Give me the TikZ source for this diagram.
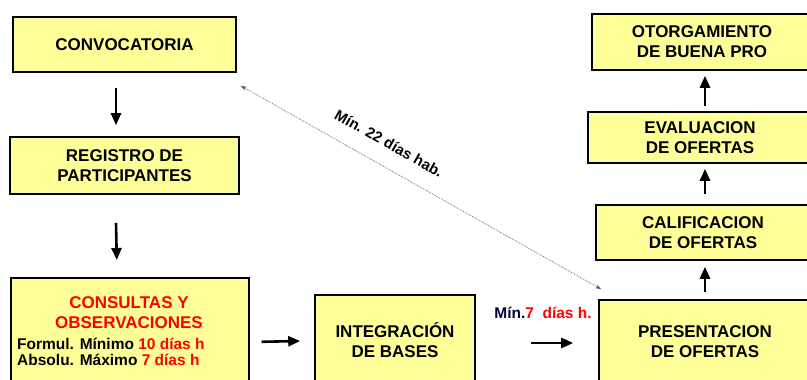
\documentclass[tikz,border=0pt]{standalone}
\usepackage{fontspec}
\setmainfont{Liberation Sans}
\usepackage{xcolor}
\usetikzlibrary{arrows.meta}
\definecolor{amarillo}{RGB}{255,255,153}
\definecolor{azulosc}{RGB}{0,0,60}
\tikzset{
    caja/.style = {draw=black, fill=amarillo, line width=1.6pt, rectangle, align=center, inner sep=0pt, font=\fontsize{17}{20}\selectfont\bfseries},
    titulo/.style = {align=center, inner sep=0pt, font=\fontsize{17}{20}\selectfont\bfseries},
    plazo/.style = {align=left, inner sep=0pt, font=\fontsize{15.5}{16.5}\selectfont\bfseries},
    flecha/.style = {line width=2.6pt, -{Triangle[length=12pt, width=10pt]}},
    punteada/.style = {densely dotted, black!65, line width=0.7pt, {Stealth[length=6pt, width=4pt]}-{Stealth[length=6pt, width=4pt]}},
}

\begin{document}
\begin{tikzpicture}[x=1pt, y=-1pt]
\useasboundingbox (0,0) rectangle (807,380);
\clip (0,0) rectangle (807,380);
% left column
\node[caja, minimum width=223pt, minimum height=55pt] (convocatoria) at (124.5,44.5) {CONVOCATORIA};
\node[caja, minimum width=229pt, minimum height=57pt] (registro) at (124.5,165.5) {REGISTRO DE\\PARTICIPANTES};
\node[caja, anchor=north west, minimum width=238pt, minimum height=115pt] (consultas) at (10,277) {};
\node[titulo, text=red] (consultastit) at (129,313) {CONSULTAS Y\\OBSERVACIONES};
\node[plazo, anchor=west] (plazos) at (17,352) {Formul. Mínimo \textcolor{red}{10 días h}\\Absolu. Máximo \textcolor{red}{7 días h}};
% bottom middle
\node[caja, minimum width=160pt, minimum height=90pt] (integracion) at (395,340) {INTEGRACIÓN\\DE BASES};
\node[plazo] (plazo7) at (543,313) {\textcolor{azulosc}{Mín.}\textcolor{red}{7\ \ días h.}};
% right column
\node[caja, minimum width=212pt, minimum height=84pt] (presentacion) at (705,342) {PRESENTACION\\DE OFERTAS};
\node[caja, minimum width=214pt, minimum height=55pt] (calificacion) at (703,232.5) {CALIFICACION\\DE OFERTAS};
\node[caja, minimum width=224pt, minimum height=51pt] (evaluacion) at (700,137.5) {EVALUACION\\DE OFERTAS};
\node[caja, minimum width=220pt, minimum height=56pt] (otorgamiento) at (702,42) {OTORGAMIENTO\\DE BUENA PRO};

% arrows
\draw[flecha] ([xshift=-8.5pt, yshift=-15pt]convocatoria.south) -- ([xshift=-8.5pt, yshift=11pt]registro.north);
\draw[flecha] ([xshift=-8.5pt, yshift=-28pt]registro.south) -- ([xshift=-13pt, yshift=17pt]consultas.north);
\draw[flecha] ([xshift=12pt, yshift=-6.5pt]consultas.east) -- ([xshift=-14pt, yshift=-1pt]integracion.west);
\draw[flecha] ([xshift=55pt, yshift=-3pt]integracion.east) -- ([xshift=-25pt, yshift=-1pt]presentacion.west);
\draw[flecha] ([yshift=7pt]presentacion.north) -- ([xshift=2pt, yshift=-6pt]calificacion.south);
\draw[flecha] ([xshift=2pt, yshift=10pt]calificacion.north) -- ([xshift=5pt, yshift=-5pt]evaluacion.south);
\draw[flecha] ([xshift=5pt, yshift=5pt]evaluacion.north) -- ([xshift=3pt, yshift=-5pt]otorgamiento.south);
\draw[punteada] ([shift={(4pt,-13pt)}]convocatoria.south east) -- node[sloped, pos=0.38, above=17pt, plazo, text=black, font=\fontsize{15}{16}\selectfont\bfseries] (minimo) {Mín. 22 días hab.} ([shift={(3pt,10pt)}]presentacion.north west);
\end{tikzpicture}
\end{document}
